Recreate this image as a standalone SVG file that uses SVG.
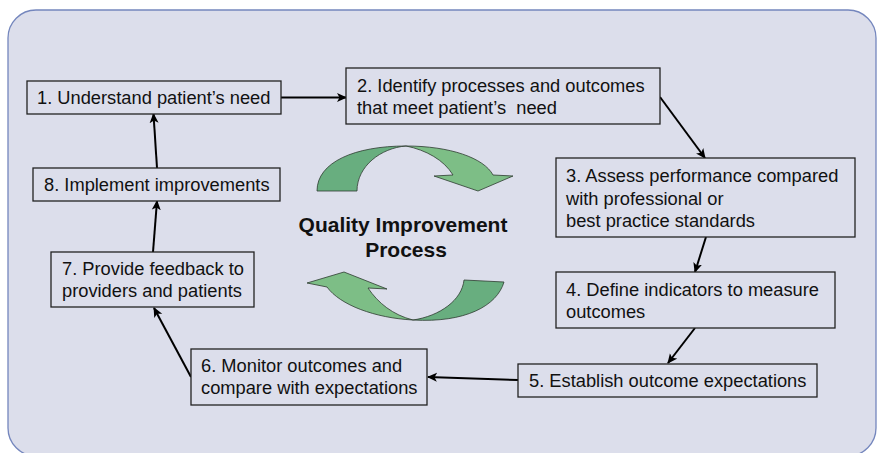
<svg xmlns="http://www.w3.org/2000/svg" width="877" height="453" viewBox="0 0 877 453">
  <defs>
    <marker id="head" viewBox="0 0 10 10" refX="9" refY="5" markerWidth="10" markerHeight="10" markerUnits="userSpaceOnUse" orient="auto">
      <path d="M0,0.5 L10,5 L0,9.5 L2.5,5 Z" fill="#000"/>
    </marker>
  </defs>
  <style>
    .panel { fill: #dcdeeb; stroke: #7486bd; stroke-width: 1.3; }
    .box { fill: #dcdeeb; stroke: #222; stroke-width: 1.3; }
    .lbl { font-family: "Liberation Sans", Arial, sans-serif; font-size: 18.3px; fill: #111; }
    .title { font-family: "Liberation Sans", Arial, sans-serif; font-size: 21px; font-weight: bold; fill: #111; text-anchor: middle; }
    .conn { stroke: #000; stroke-width: 2; fill: none; marker-end: url(#head); }
    .dark { fill: #68ae7f; stroke: #2d3b30; stroke-width: 0.8; }
    .light { fill: #7dbe86; stroke: #2d3b30; stroke-width: 0.8; }
  </style>

  <!-- rounded background panel -->
  <rect class="panel" x="8" y="10" width="868" height="446" rx="28"/>

  <!-- cycle arrows around the title -->
  <g id="cycle-top">
    <path class="dark" d="M317,191 C317,162 355,146 406,146 C381,148 357,166 357,191 Z"/>
    <path class="light" d="M406,146 C450,146 484,158 493,175 L513,176 L478,191 L434,176 L453,175 C444,160 426,150 406,146 Z"/>
  </g>
  <g id="cycle-bottom">
    <path class="light" d="M413,320 C375,318 340,305 327,287 L307,283 L344,272 L387,289 L368,288 C378,303 393,315 413,320 Z"/>
    <path class="dark" d="M413,320 C465,323 497,306 504,282 L464,280 C462,300 440,316 413,320 Z"/>
  </g>

  <g id="title">
    <text class="title" x="403" y="232">Quality Improvement</text>
    <text class="title" x="406" y="257">Process</text>
  </g>

  <!-- connectors -->
  <g id="connectors">
    <line class="conn" x1="281" y1="97.5" x2="346" y2="97.5"/>
    <line class="conn" x1="660" y1="97" x2="705" y2="158"/>
    <line class="conn" x1="706" y1="237" x2="695" y2="272"/>
    <line class="conn" x1="695" y1="328" x2="668" y2="363"/>
    <line class="conn" x1="518" y1="380" x2="428" y2="377"/>
    <line class="conn" x1="191" y1="377" x2="154" y2="308"/>
    <line class="conn" x1="153" y1="252" x2="157" y2="201"/>
    <line class="conn" x1="157" y1="168" x2="153.5" y2="114"/>
  </g>

  <!-- process steps -->
  <g id="step1">
    <rect class="box" x="27" y="81" width="254" height="33"/>
    <text class="lbl" x="37" y="104">1. Understand patient’s need</text>
  </g>
  <g id="step2">
    <rect class="box" x="346" y="68" width="314" height="56"/>
    <text class="lbl" x="357" y="92">2. Identify processes and outcomes</text>
    <text class="lbl" x="357" y="114" xml:space="preserve">that meet patient’s  need</text>
  </g>
  <g id="step3">
    <rect class="box" x="556" y="158" width="299" height="79"/>
    <text class="lbl" x="566" y="182">3. Assess performance compared</text>
    <text class="lbl" x="566" y="205">with professional or</text>
    <text class="lbl" x="566" y="227">best practice standards</text>
  </g>
  <g id="step4">
    <rect class="box" x="556" y="272" width="279" height="56"/>
    <text class="lbl" x="566" y="296">4. Define indicators to measure</text>
    <text class="lbl" x="566" y="318">outcomes</text>
  </g>
  <g id="step5">
    <rect class="box" x="518" y="364" width="299" height="33"/>
    <text class="lbl" x="529" y="387">5. Establish outcome expectations</text>
  </g>
  <g id="step6">
    <rect class="box" x="191" y="349" width="236" height="56"/>
    <text class="lbl" x="201" y="372">6. Monitor outcomes and</text>
    <text class="lbl" x="201" y="394">compare with expectations</text>
  </g>
  <g id="step7">
    <rect class="box" x="51" y="252" width="203" height="55"/>
    <text class="lbl" x="62" y="275">7. Provide feedback to</text>
    <text class="lbl" x="62" y="297">providers and patients</text>
  </g>
  <g id="step8">
    <rect class="box" x="33" y="168" width="247" height="33"/>
    <text class="lbl" x="44" y="191">8. Implement improvements</text>
  </g>
</svg>
